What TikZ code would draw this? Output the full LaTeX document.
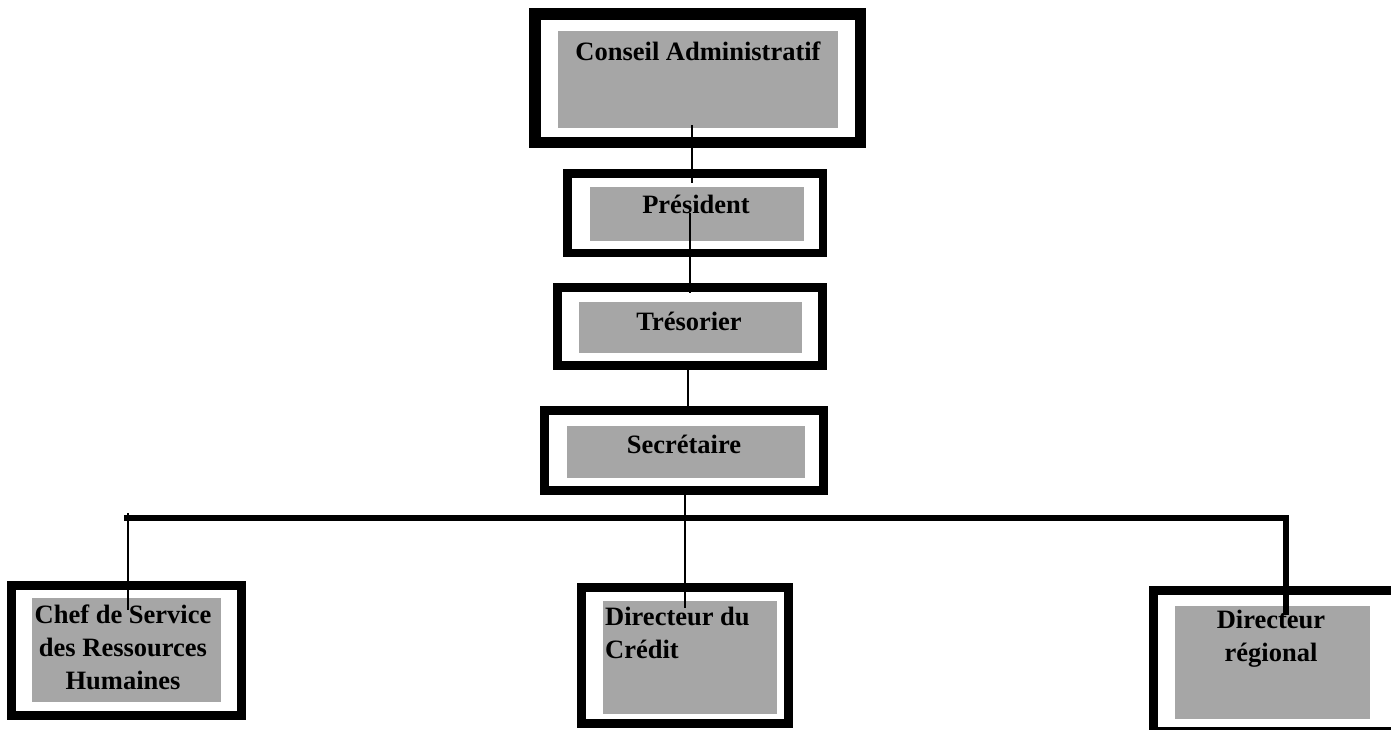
\documentclass[tikz,border=0pt]{standalone}
\usepackage{fontspec}
\setmainfont{Liberation Serif}
\definecolor{boxgray}{RGB}{166,166,166}
\begin{document}
\begin{tikzpicture}[x=1pt,y=-1pt,
  frame/.style n args={3}{draw=black, line width=#3pt, minimum width=#1pt, minimum height=#2pt, inner sep=0pt, outer sep=0pt, fill=white},
  graybox/.style n args={2}{fill=boxgray, draw=none, minimum width=#1pt, minimum height=#2pt, inner sep=0pt, outer sep=0pt},
  lbl/.style={font=\bfseries\fontsize{26.5}{33}\selectfont, inner sep=0pt, anchor=base},
  link/.style={draw=black, line width=2.2pt},
  bus/.style={draw=black, line width=6pt, line join=miter}]
\clip (0,0) rectangle (1391,729);
\fill[white] (0,0) rectangle (1391,729);

% frames
\node[frame={325.5}{128.5}{11.5}] (caF) at (697.5,78) {};
\node[frame={255.5}{79.5}{8.5}] (prF) at (695,213) {};
\node[frame={265}{78}{9}] (trF) at (690,326.5) {};
\node[frame={279}{80}{9}] (seF) at (684,450.5) {};
\node[frame={230}{130}{9}] (rhF) at (126.5,650.5) {};
\node[frame={207}{136}{9}] (dcF) at (685,655.5) {};
\node[frame={242}{141}{9}] (drF) at (1274.5,661) {};

% gray boxes
\node[graybox={280}{97}] (ca) at (698,79.5) {};
\node[graybox={214}{54}] (pr) at (697,214) {};
\node[graybox={223}{51}] (tr) at (690.5,327.5) {};
\node[graybox={238}{52}] (se) at (686,452) {};
\node[graybox={189}{104}] (rh) at (126.5,650) {};
\node[graybox={174}{113}] (dc) at (690,657.5) {};
\node[graybox={195}{113}] (dr) at (1272.5,662.5) {};

% labels
\node[lbl] (caT) at (698,60) {Conseil Administratif};
\node[lbl] (prT) at (696,213) {Président};
\node[lbl] (trT) at (689,330) {Trésorier};
\node[lbl] (seT) at (684,453) {Secrétaire};
\node[lbl, align=center] (rhT) at (123,689) {Chef de Service\\des Ressources\\Humaines};
\node[lbl, align=left, anchor=base west] (dcT) at (605,658) {Directeur du\\Crédit};
\node[lbl, align=center] (drT) at (1271,661) {Directeur\\régional};

% connector points
\coordinate (c1a) at (692,125);
\coordinate (c1b) at (692,183);
\coordinate (c2a) at (690,213);
\coordinate (c2b) at (690,293);
\coordinate (c3a) at (688,370);
\coordinate (c3b) at (688,407);
\coordinate (c4a) at (685,495);
\coordinate (c4b) at (685,608);
\coordinate (busL) at (124,518);
\coordinate (busR) at (1286,518);
\coordinate (drIn) at (1286,615);
\coordinate (rhTop) at (128,513);
\coordinate (rhIn) at (128,610);

% connectors
\draw[link] (c1a) -- (c1b);
\draw[link, line width=2.8pt] (c2a) -- (c2b);
\draw[link] (c3a) -- (c3b);
\draw[link] (c4a) -- (c4b);
\draw[bus] (busL) -- (busR) -- (drIn);
\draw[link] (rhTop) -- (rhIn);
\end{tikzpicture}
\end{document}
